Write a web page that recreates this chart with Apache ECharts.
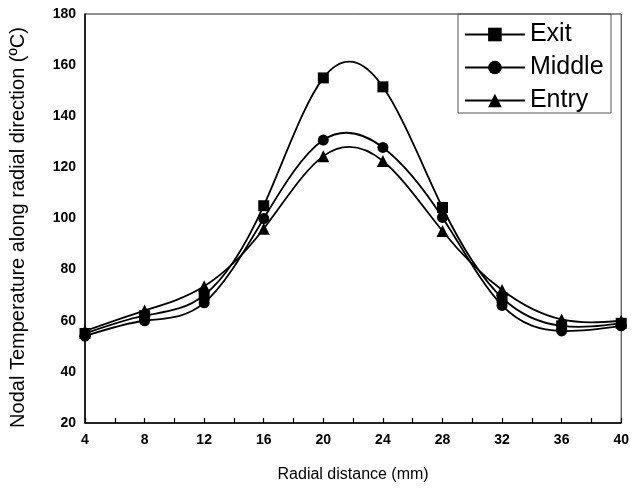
<!DOCTYPE html>
<html>
<head>
<meta charset="utf-8">
<script src="https://cdn.jsdelivr.net/npm/echarts@6/dist/echarts.min.js"></script>
<style>
  html, body { margin: 0; padding: 0; background: #fff; }
  #chart { width: 632px; height: 488px; }
</style>
</head>
<body>
<div id="chart"></div>
<script>
// Radial positions (mm)
const radialDistance = [4, 8, 12, 16, 20, 24, 28, 32, 36, 40];
// Nodal temperatures (°C) at the three sections
const exitTemp   = [55, 62, 70, 105, 155, 151.5, 104.3, 69, 58, 59];
const middleTemp = [54, 60, 67, 100, 130.7, 127.8, 100.4, 66, 56, 58];
const entryTemp  = [56, 64, 73.5, 96, 124.4, 122.5, 95.1, 72, 60.5, 60];

const seriesNames = ['Exit', 'Middle', 'Entry'];
const seriesSymbols = ['rect', 'circle', 'triangle'];
const seriesSizes = [11, 11, 12];
const seriesValues = [exitTemp, middleTemp, entryTemp];

const pairs = (ys) => radialDistance.map((x, i) => [x, ys[i]]);

// Knot slopes of a natural cubic spline through (xs, ys)
function splineSlopes(xs, ys) {
  const n = xs.length - 1;
  const h = [];
  for (let i = 0; i < n; i++) h.push(xs[i + 1] - xs[i]);
  // tridiagonal system for second derivatives M (M0 = Mn = 0)
  const a = [], b = [], c = [], d = [];
  for (let i = 1; i < n; i++) {
    a.push(h[i - 1]);
    b.push(2 * (h[i - 1] + h[i]));
    c.push(h[i]);
    d.push(6 * ((ys[i + 1] - ys[i]) / h[i] - (ys[i] - ys[i - 1]) / h[i - 1]));
  }
  const m = a.length;
  for (let i = 1; i < m; i++) {
    const w = a[i] / b[i - 1];
    b[i] -= w * c[i - 1];
    d[i] -= w * d[i - 1];
  }
  const inner = new Array(m);
  for (let i = m - 1; i >= 0; i--) {
    inner[i] = (d[i] - (i < m - 1 ? c[i] * inner[i + 1] : 0)) / b[i];
  }
  const M = [0].concat(inner, [0]);
  const slopes = [];
  for (let i = 0; i < n; i++) {
    slopes.push((ys[i + 1] - ys[i]) / h[i] - h[i] * (2 * M[i] + M[i + 1]) / 6);
  }
  slopes.push((ys[n] - ys[n - 1]) / h[n - 1] + h[n - 1] * (M[n - 1] + 2 * M[n]) / 6);
  return slopes;
}

// Custom series that strokes the spline curve through one data set
function curveSeries(ys) {
  return {
    type: 'custom',
    name: 'curve',
    data: pairs(ys),
    silent: true,
    z: 2,
    renderItem: function (params, api) {
      if (params.dataIndex !== 0) return null;
      const xs = radialDistance;
      const s = splineSlopes(xs, ys);
      const p0 = api.coord([xs[0], ys[0]]);
      let d = 'M' + p0[0] + ' ' + p0[1];
      for (let i = 0; i < xs.length - 1; i++) {
        const h = xs[i + 1] - xs[i];
        const c1 = api.coord([xs[i] + h / 3, ys[i] + s[i] * h / 3]);
        const c2 = api.coord([xs[i + 1] - h / 3, ys[i + 1] - s[i + 1] * h / 3]);
        const p = api.coord([xs[i + 1], ys[i + 1]]);
        d += ' C' + c1[0] + ' ' + c1[1] + ' ' + c2[0] + ' ' + c2[1] + ' ' + p[0] + ' ' + p[1];
      }
      return {
        type: 'path',
        shape: { pathData: d },
        style: { fill: 'none', stroke: '#000', lineWidth: 1.8 }
      };
    }
  };
}

const chart = echarts.init(document.getElementById('chart'));
const font = 'Liberation Sans, Arial, sans-serif';

const markerSeries = seriesNames.map((name, k) => ({
  name: name,
  type: 'line',
  data: pairs(seriesValues[k]),
  symbol: seriesSymbols[k],
  symbolSize: seriesSizes[k],
  lineStyle: { color: '#000', width: 1.8, opacity: 0 },
  itemStyle: { color: '#000' },
  z: 3
}));

chart.setOption({
  animation: false,
  backgroundColor: '#fff',
  grid: {
    left: 75, right: 7, top: 14, bottom: 65,
    show: true, borderColor: '#222', borderWidth: 1
  },
  legend: {
    orient: 'vertical',
    left: 464, top: 22, padding: 0,
    itemWidth: 60, itemHeight: 17, itemGap: 8,
    lineStyle: { color: '#000', width: 1.8, opacity: 1 },
    itemStyle: { color: '#000' },
    textStyle: { fontFamily: font, fontSize: 25, color: '#000', lineHeight: 25 },
    data: seriesNames
  },
  graphic: [{
    type: 'rect',
    shape: { x: 458, y: 14, width: 153, height: 99 },
    style: { fill: 'none', stroke: '#555', lineWidth: 1 },
    z: 10
  }],
  xAxis: {
    type: 'value', min: 4, max: 40, interval: 4,
    name: 'Radial distance (mm)', nameLocation: 'middle', nameGap: 44,
    nameTextStyle: { fontFamily: font, fontSize: 16, color: '#000' },
    axisLine: { show: true, lineStyle: { color: '#000', width: 1.5 } },
    axisTick: { show: true, inside: true, length: 5, lineStyle: { color: '#000', width: 1.2 } },
    minorTick: { show: true, splitNumber: 2, length: 5, lineStyle: { color: '#000', width: 1.2 } },
    splitLine: { show: false },
    axisLabel: { fontFamily: font, fontSize: 14, fontWeight: 'bold', color: '#000', margin: 10 }
  },
  yAxis: {
    type: 'value', min: 20, max: 180, interval: 20,
    name: 'Nodal Temperature along radial direction (ºC)', nameLocation: 'middle', nameGap: 57,
    nameTextStyle: { fontFamily: font, fontSize: 20, color: '#000', padding: [0, 18, 0, 0] },
    axisLine: { show: true, lineStyle: { color: '#000', width: 1.5 } },
    axisTick: { show: false },
    splitLine: { show: false },
    axisLabel: { fontFamily: font, fontSize: 14, fontWeight: 'bold', color: '#000', margin: 9 }
  },
  series: seriesValues.map(curveSeries).concat(markerSeries)
});
</script>
</body>
</html>
